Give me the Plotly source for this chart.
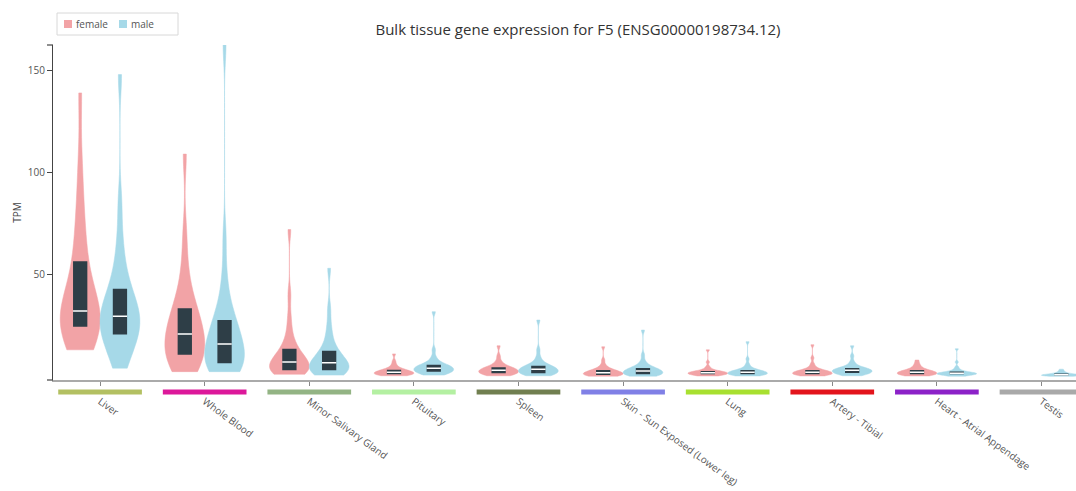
import numpy as np
import plotly.graph_objects as go

tissues = ["Liver", "Whole Blood", "Minor Salivary Gland", "Pituitary", "Spleen",
           "Skin - Sun Exposed (Lower leg)", "Lung", "Artery - Tibial",
           "Heart - Atrial Appendage", "Testis"]
tissue_colors = ["#b3c062", "#dc189a", "#93b484", "#b4f0a2", "#717f50",
                 "#8080e6", "#a8e030", "#e3141c", "#8c22c8", "#a9a9a9"]

# Estimated TPM distributions (25 approximate quantiles per tissue)
female_tpm = [
    [13, 15, 16.5, 18, 20, 22.5, 25, 26.5, 28, 29, 30, 31, 32, 34, 37, 40, 44, 49, 55, 61, 68, 77, 88, 105, 139],
    [2.3, 3.5, 5, 6.5, 8, 9.5, 11, 12.5, 14, 15.5, 17.5, 19, 20.7, 22.5, 24.5, 26.5, 28.5, 30.5, 32.5, 36, 40, 46, 55, 70, 109],
    [1, 1.4, 1.8, 2.2, 2.5, 2.8, 3, 3.6, 4.3, 5, 5.7, 6.3, 7, 7.8, 8.7, 9.6, 10.6, 11.8, 13, 15, 18, 22, 29, 40, 72],
    [0.3, 0.5, 0.6, 0.7, 0.8, 0.9, 1.0, 1.2, 1.4, 1.6, 1.75, 1.9, 2.0, 2.2, 2.4, 2.6, 2.8, 2.95, 3.1, 3.5, 4.0, 4.7, 5.8, 7.5, 11],
    [0.3, 0.6, 0.8, 1.0, 1.2, 1.35, 1.5, 1.8, 2.0, 2.3, 2.5, 2.8, 3.0, 3.2, 3.4, 3.6, 3.9, 4.1, 4.3, 4.8, 5.4, 6.2, 7.5, 10, 15],
    [0.1, 0.2, 0.3, 0.4, 0.5, 0.6, 0.7, 0.9, 1.1, 1.3, 1.45, 1.6, 1.8, 2.0, 2.2, 2.4, 2.6, 2.8, 3.0, 3.4, 3.9, 4.6, 5.8, 8, 14.5],
    [0.2, 0.4, 0.5, 0.65, 0.8, 0.9, 1.0, 1.15, 1.3, 1.45, 1.55, 1.7, 1.8, 1.9, 2.0, 2.1, 2.25, 2.4, 2.5, 2.8, 3.2, 3.8, 4.8, 7, 13],
    [0.2, 0.4, 0.5, 0.65, 0.8, 0.9, 1.0, 1.2, 1.35, 1.5, 1.7, 1.85, 2.0, 2.15, 2.3, 2.45, 2.6, 2.8, 3.0, 3.4, 4.0, 4.8, 6.2, 9, 15.5],
    [0.2, 0.4, 0.5, 0.65, 0.8, 0.9, 1.0, 1.2, 1.35, 1.5, 1.7, 1.85, 2.0, 2.15, 2.3, 2.45, 2.6, 2.8, 3.0, 3.4, 3.9, 4.5, 5.3, 6.4, 8],
    [],
]
male_tpm = [
    [4, 8, 11, 14, 16.5, 19, 21, 22.5, 24, 25.5, 27, 28.3, 29.5, 31, 33, 35, 37.5, 40, 42, 46, 51, 58, 68, 85, 148],
    [2.3, 2.8, 3.5, 4.3, 5, 5.8, 6.7, 8, 9.5, 11, 12.5, 14, 15.8, 17.5, 19.5, 21.5, 23.5, 25, 26.8, 30, 34, 40, 50, 68, 163],
    [0.6, 1.1, 1.6, 2, 2.4, 2.7, 3, 3.6, 4.2, 4.8, 5.4, 6, 6.7, 7.4, 8.2, 9, 10, 11, 12, 14, 16.5, 20, 25, 33, 53],
    [0.6, 1.0, 1.4, 1.7, 1.9, 2.1, 2.3, 2.6, 2.9, 3.2, 3.5, 3.8, 4.0, 4.3, 4.5, 4.8, 5.0, 5.3, 5.5, 6.0, 6.8, 7.8, 9.5, 13, 31.7],
    [0.3, 0.6, 0.9, 1.1, 1.3, 1.45, 1.6, 1.9, 2.2, 2.6, 2.9, 3.2, 3.5, 3.7, 4.0, 4.2, 4.5, 4.8, 5.0, 5.6, 6.4, 7.5, 9.5, 13, 27.6],
    [0.1, 0.3, 0.5, 0.6, 0.75, 0.9, 1.0, 1.3, 1.6, 1.9, 2.1, 2.4, 2.6, 2.8, 3.0, 3.3, 3.5, 3.8, 4.0, 4.5, 5.1, 6, 7.5, 10.5, 22.7],
    [0.2, 0.4, 0.5, 0.65, 0.8, 0.9, 1.0, 1.2, 1.35, 1.5, 1.7, 1.85, 2.0, 2.15, 2.3, 2.45, 2.6, 2.8, 3.0, 3.4, 3.9, 4.6, 6, 8.5, 17],
    [0.3, 0.6, 0.9, 1.1, 1.3, 1.5, 1.7, 1.9, 2.1, 2.3, 2.5, 2.75, 3.0, 3.15, 3.3, 3.45, 3.6, 3.8, 4.0, 4.4, 5.0, 5.8, 7.2, 10, 15],
    [0.1, 0.3, 0.45, 0.6, 0.75, 0.9, 1.0, 1.1, 1.2, 1.3, 1.35, 1.4, 1.5, 1.6, 1.7, 1.8, 1.95, 2.1, 2.3, 2.6, 3.0, 3.6, 4.6, 7, 13.5],
    [0, 0.1, 0.2, 0.25, 0.3, 0.35, 0.4, 0.45, 0.5, 0.55, 0.6, 0.7, 0.75, 0.8, 0.9, 1.0, 1.1, 1.2, 1.3, 1.5, 1.7, 2.0, 2.4, 2.9, 3.5],
]

sexes = ["female", "male"]
sex_colors = ["#f2a3a6", "#a6d9e8"]
box_dark = "#2e3e47"

fig = go.Figure()
for sex, data, color in zip(sexes, [female_tpm, male_tpm], sex_colors):
    for t, vals in zip(tissues, data):
        if not vals:
            continue
        fig.add_trace(go.Violin(
            x=[t] * len(vals), y=vals, name=sex, legendgroup=sex, showlegend=False,
            offsetgroup=sex, alignmentgroup="all", scalegroup=sex + t,
            fillcolor=color, line=dict(color=color, width=0.5), opacity=1,
            spanmode="hard", points=False, scalemode="width",
            box=dict(visible=True, width=0.36, fillcolor=box_dark,
                     line=dict(color=box_dark, width=0)),
            meanline=dict(visible=False), hoverinfo="skip",
        ))

for sex, data in zip(sexes, [female_tpm, male_tpm]):
    cats = [t for t, v in zip(tissues, data) if v]
    meds = [float(np.median(v)) for v in data if v]
    fig.add_trace(go.Box(
        x=cats, q1=meds, median=meds, q3=meds, lowerfence=meds, upperfence=meds,
        offsetgroup=sex, alignmentgroup="all",
        line=dict(color="white", width=1.5), fillcolor="rgba(0,0,0,0)",
        showlegend=False, hoverinfo="skip", name=sex + " median",
    ))

# pixel helpers for plot-area placement
L, R, T, B = 53, 0, 45, 111
PW, PH = 1076 - L - R, 491 - T - B
px = lambda x: (x - L) / PW
py = lambda y: (491 - B - y) / PH

shapes = []
for i, c in enumerate(tissue_colors):
    shapes.append(dict(type="line", xref="x", yref="paper",
                       x0=i - 0.40, x1=i + 0.40, y0=py(392), y1=py(392),
                       line=dict(color=c, width=5)))
for yy in (0, 1):
    shapes.append(dict(type="line", xref="paper", yref="paper",
                       x0=px(47), x1=0, y0=yy, y1=yy,
                       line=dict(color="#444", width=1.2)))

# legend box
shapes.append(dict(type="rect", xref="paper", yref="paper",
                   x0=px(57), x1=px(178), y0=py(35), y1=py(13),
                   line=dict(color="#d8d8d8", width=1), fillcolor="white"))
annotations = []
for sex, color, x0 in zip(sexes, sex_colors, [64, 119]):
    shapes.append(dict(type="rect", xref="paper", yref="paper",
                       x0=px(x0), x1=px(x0 + 8), y0=py(28), y1=py(20),
                       line=dict(width=0), fillcolor=color))
    annotations.append(dict(text=sex, xref="paper", yref="paper", x=px(x0 + 10),
                            y=py(24), xanchor="left", yanchor="middle", showarrow=False,
                            font=dict(size=10, color="#555")))

fig.update_layout(
    width=1076, height=491,
    margin=dict(l=L, r=R, t=T, b=B),
    paper_bgcolor="white", plot_bgcolor="white",
    font=dict(family="Open Sans", color="#444", size=10),
    title=dict(text="Bulk tissue gene expression for F5 (ENSG00000198734.12)",
               x=578 / 1076, xref="container", xanchor="center",
               y=1 - 30 / 491, yanchor="middle",
               font=dict(size=15, color="#333")),
    violinmode="group", violingap=0.24, violingroupgap=0,
    boxmode="group", boxgap=0.24, boxgroupgap=0.64,
    showlegend=False,
    xaxis=dict(type="category", categoryorder="array", categoryarray=tissues,
               range=[-0.45, 9.33], showline=True, linecolor="#aaaaaa", linewidth=2,
               ticks="outside", ticklen=4, tickcolor="#888", tickangle=36,
               tickfont=dict(size=10, color="#555"), ticklabelstandoff=6,
               showgrid=False, zeroline=False, automargin=False),
    yaxis=dict(range=[-1.8, 162.5], tickvals=[50, 100, 150], showline=True,
               linecolor="#444", linewidth=1.2, ticks="outside", ticklen=5,
               tickcolor="#444", tickfont=dict(size=10, color="#555"),
               title=dict(text="TPM", font=dict(size=10, color="#444"), standoff=4),
               showgrid=False, zeroline=False, automargin=False),
    shapes=shapes,
    annotations=annotations,
)

fig.write_html("out.html")
